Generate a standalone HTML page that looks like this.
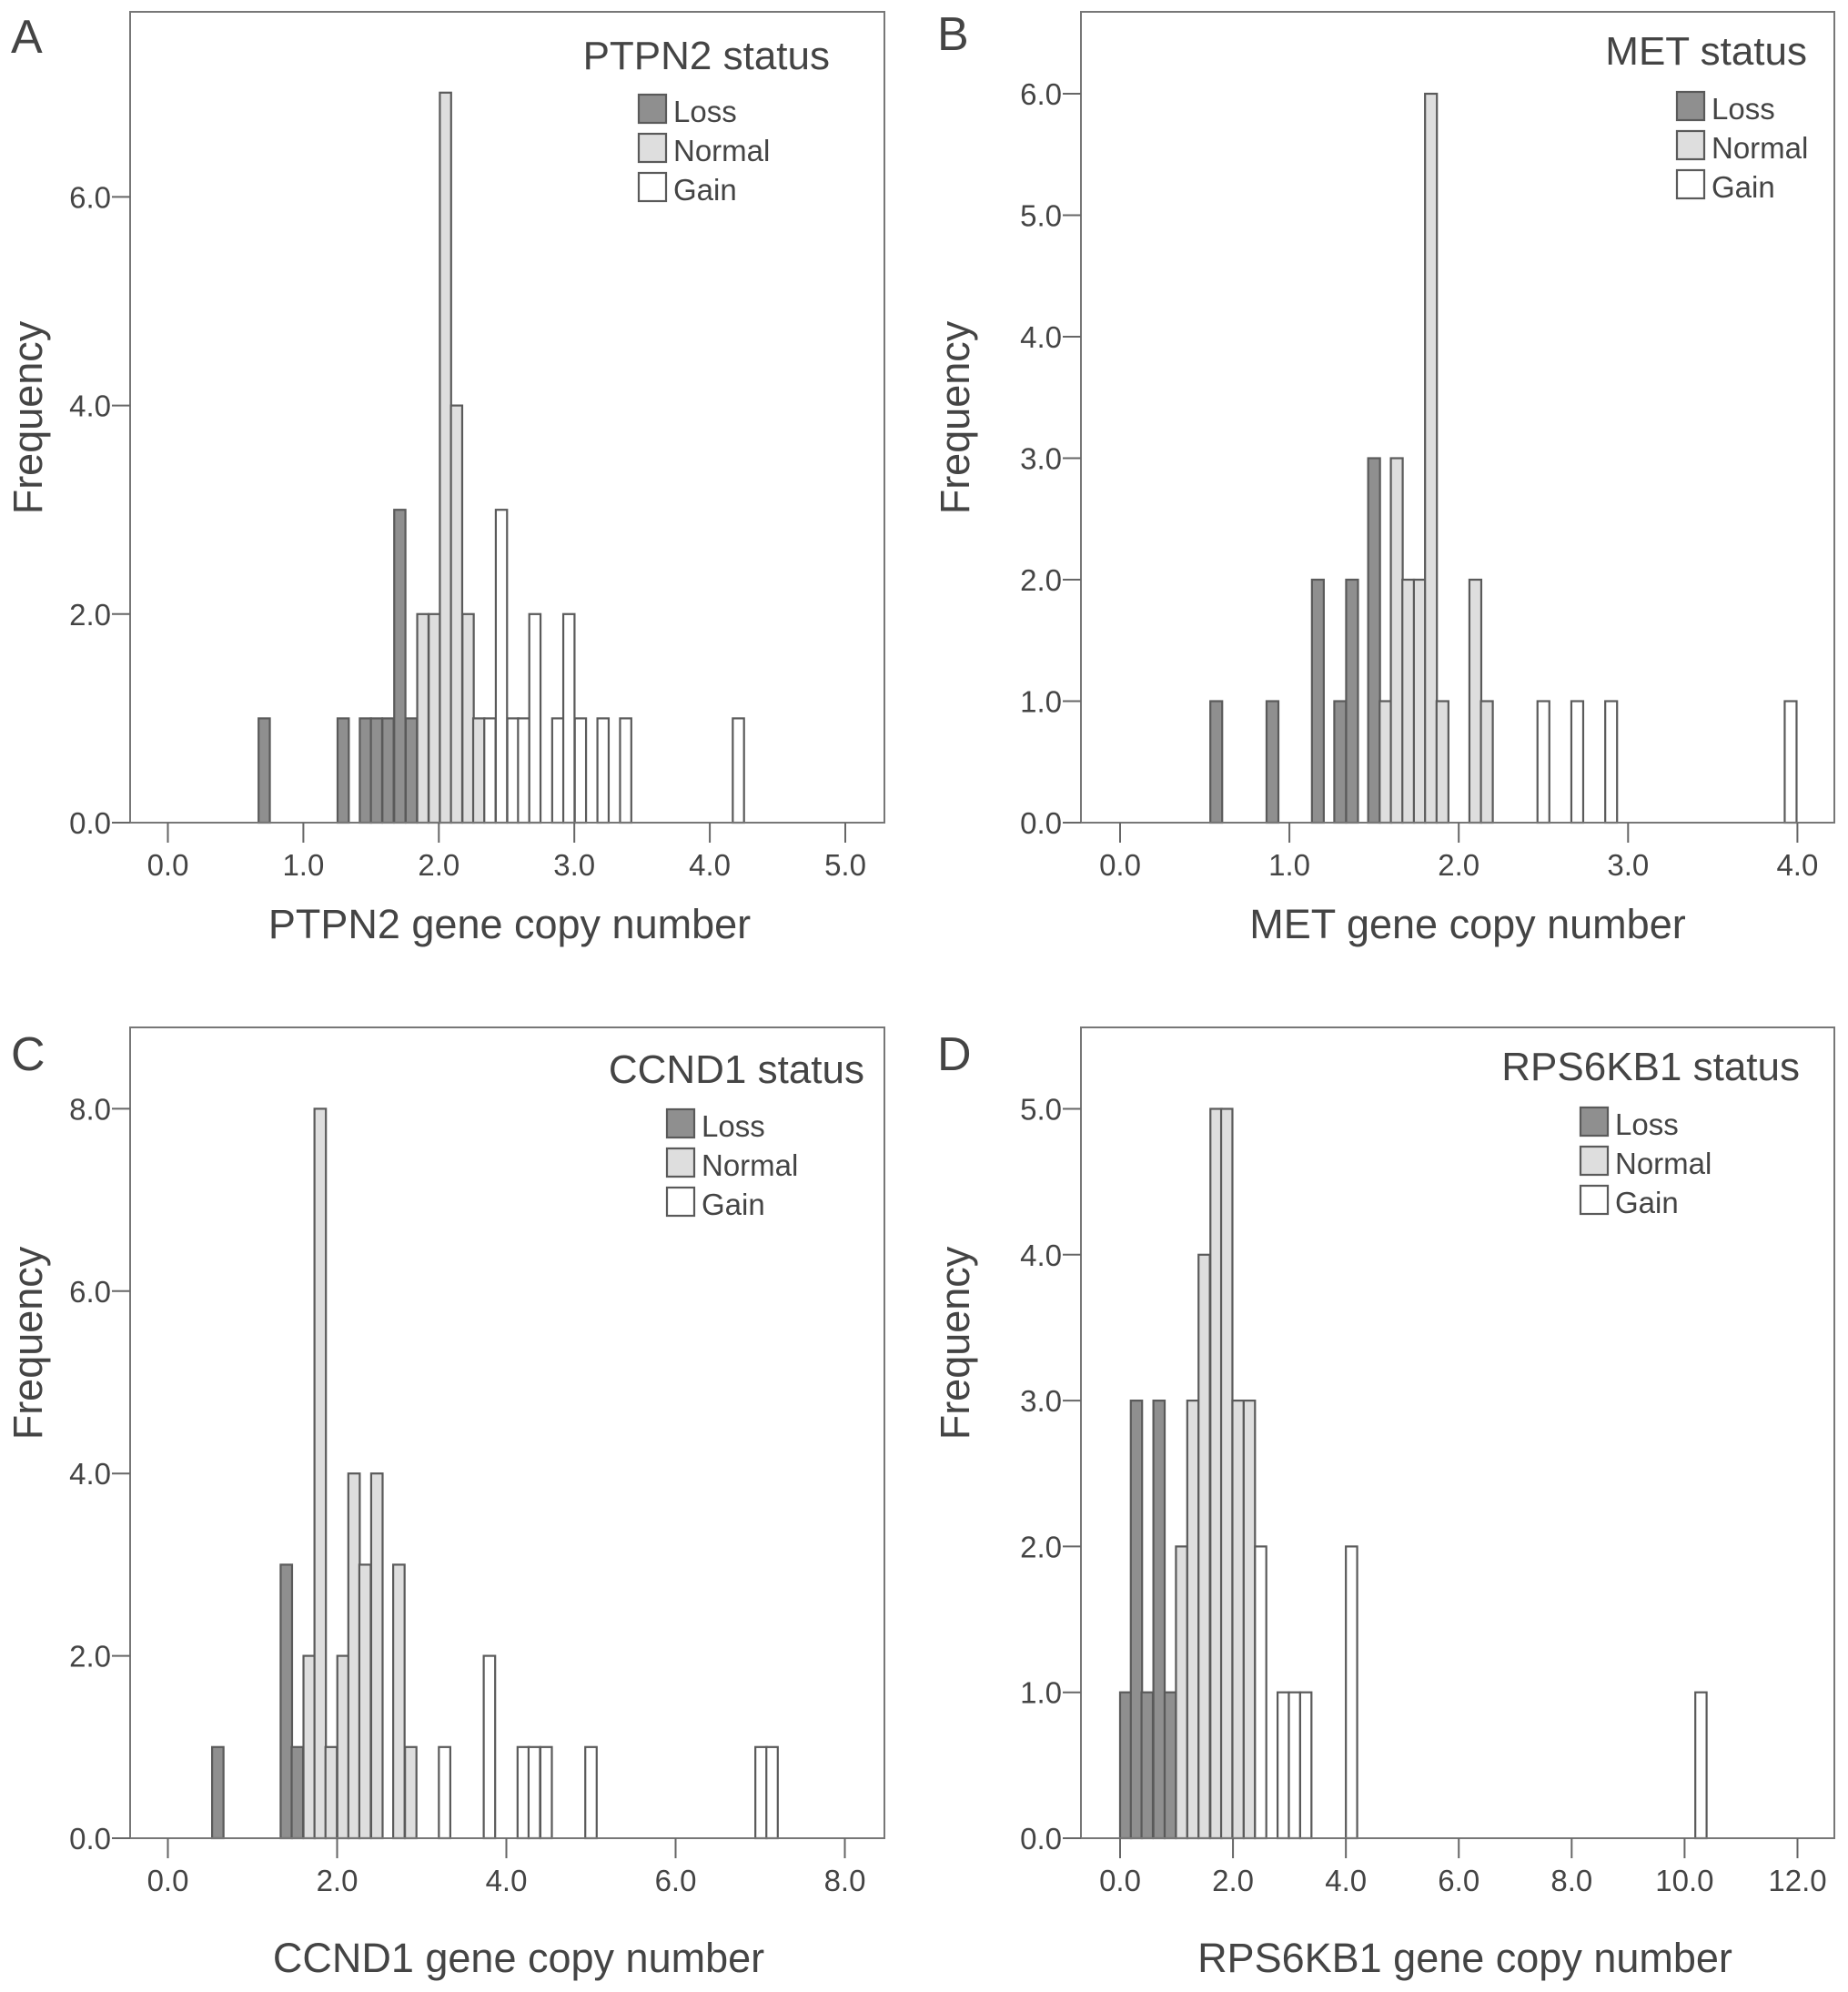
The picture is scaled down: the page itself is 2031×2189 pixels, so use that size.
<!DOCTYPE html>
<html><head><meta charset="utf-8"><style>
html,body{margin:0;padding:0;background:#fff}
svg{display:block}
text{font-family:"Liberation Sans",sans-serif;fill:#444}
</style></head><body>
<svg id="fig" width="2031" height="2189" viewBox="0 0 2031 2189" xmlns="http://www.w3.org/2000/svg"></svg>
<script>
// Panel A: PTPN2
const aLossX=[0.711,1.294,1.458,1.540,1.625,1.712,1.797];
const aLossY=[1,1,1,1,1,3,1];
const aNormX=[1.882,1.967,2.049,2.131,2.216,2.295];
const aNormY=[2,2,7,4,2,1];
const aGainX=[2.377,2.462,2.547,2.626,2.709,2.878,2.960,3.045,3.212,3.379,4.211];
const aGainY=[1,3,1,1,2,1,2,1,1,1,1];
const aXTicks=[0,1,2,3,4,5];
const aYTicks=[0,2,4,6];
// Panel B: MET
const bLossX=[0.568,0.900,1.168,1.300,1.370,1.500];
const bLossY=[1,1,2,1,2,3];
const bNormX=[1.568,1.634,1.702,1.770,1.836,1.904,2.098,2.166];
const bNormY=[1,3,2,2,6,1,2,1];
const bGainX=[2.50,2.70,2.90,3.96];
const bGainY=[1,1,1,1];
const bXTicks=[0,1,2,3,4];
const bYTicks=[0,1,2,3,4,5,6];
// Panel C: CCND1
const cLossX=[0.59,1.40,1.53];
const cLossY=[1,3,1];
const cNormX=[1.67,1.80,1.93,2.07,2.20,2.33,2.47,2.73,2.87];
const cNormY=[2,8,1,2,4,3,4,3,1];
const cGainX=[3.27,3.80,4.20,4.33,4.47,5.00,7.01,7.14];
const cGainY=[1,2,1,1,1,1,1,1];
const cXTicks=[0,2,4,6,8];
const cYTicks=[0,2,4,6,8];
// Panel D: RPS6KB1
const dLossX=[0.10,0.29,0.48,0.69,0.89];
const dLossY=[1,3,1,3,1];
const dNormX=[1.09,1.29,1.49,1.70,1.89,2.09,2.29];
const dNormY=[2,3,4,5,5,3,3];
const dGainX=[2.49,2.89,3.09,3.29,4.10,10.29];
const dGainY=[2,1,1,1,2,1];
const dXTicks=[0,2,4,6,8,10,12];
const dYTicks=[0,1,2,3,4,5];

const NS='http://www.w3.org/2000/svg';
const svg=document.getElementById('fig');
function mk(tag,attrs,parent){const e=document.createElementNS(NS,tag);for(const k in attrs)e.setAttribute(k,attrs[k]);(parent||svg).appendChild(e);return e;}

function panel(cfg){
  const g=mk('g',{});
  
  
  const L=cfg.left,R=cfg.right,T=cfg.top,B=cfg.base;
  const sx=v=>cfg.x0px+(v)*cfg.xUnit;
  const sy=v=>B-v*cfg.yUnit;
  const series=[[cfg.loss,cfg.lossY,'#8f8f8f','loss'],[cfg.norm,cfg.normY,'#dedede','normal'],[cfg.gain,cfg.gainY,'#ffffff','gain']];
  series.forEach(s=>{
    s[0].forEach((x,i)=>{
      const x1=sx(x-cfg.bw/2),x2=sx(x+cfg.bw/2);
      const r=mk('rect',{x:x1,y:sy(s[1][i]),width:x2-x1,height:sy(0)-sy(s[1][i]),fill:s[2],stroke:'#5a5a5a','stroke-width':2.2},g);
      
      
    });
  });
  const fr=mk('rect',{x:L,y:T,width:R-L,height:B-T,fill:'none',stroke:'#777','stroke-width':2},g);
  
  
  cfg.yt.forEach(v=>{
    mk('line',{x1:L-20,x2:L,y1:sy(v),y2:sy(v),stroke:'#666','stroke-width':2},g);
    const t=mk('text',{x:L-21,y:sy(v)+12,'text-anchor':'end','font-size':33},g);
    t.textContent=v.toFixed(1);
    
    
  });
  cfg.xt.forEach(v=>{
    mk('line',{x1:sx(v),x2:sx(v),y1:B,y2:B+22,stroke:'#666','stroke-width':2},g);
    const t=mk('text',{x:sx(v),y:B+58,'text-anchor':'middle','font-size':33},g);
    t.textContent=v.toFixed(1);
    
    
  });
  const xt=mk('text',{x:cfg.xTitleX,y:B+cfg.xTitleDy,'text-anchor':'middle','font-size':45},g);
  xt.textContent=cfg.xTitle;
  
  
  const yt=mk('text',{x:0,y:0,'text-anchor':'middle','font-size':45,transform:`translate(${cfg.yTitleX},${cfg.yTitleY}) rotate(-90)`},g);
  yt.textContent='Frequency';
  
  
  const lt=mk('text',{x:cfg.letterX,y:cfg.letterY,'font-size':52},g);
  lt.textContent=cfg.letter;
  
  
  const lg=mk('g',{},g);
  
  
  const ttl=mk('text',{x:cfg.legTitleX2,y:cfg.legTitleY,'text-anchor':'end','font-size':44},lg);
  ttl.textContent=cfg.legTitle;
  
  
  [['Loss','#8f8f8f'],['Normal','#dedede'],['Gain','#ffffff']].forEach((e,i)=>{
    const y=cfg.swY+i*43;
    const sw=mk('rect',{x:cfg.swX,y:y,width:30,height:31,fill:e[1],stroke:'#5a5a5a','stroke-width':2.2},lg);
    
    
    const t=mk('text',{x:cfg.swX+38,y:y+30,'font-size':33},lg);
    t.textContent=e[0];
    
    
  });
}

panel({id:'ptpn2',letter:'A',letterX:12,letterY:58,left:143,right:972,top:13,base:904,x0px:184.5,xUnit:148.9,yUnit:114.6,bw:0.083,
  loss:aLossX,lossY:aLossY,norm:aNormX,normY:aNormY,gain:aGainX,gainY:aGainY,xt:aXTicks,yt:aYTicks,
  xTitle:'PTPN2 gene copy number',xTitleX:560,xTitleDy:127,yTitleX:46,yTitleY:459,
  legTitle:'PTPN2 status',legTitleX2:912,legTitleY:76,swX:702,swY:104});
panel({id:'met',letter:'B',letterX:1030,letterY:55,left:1188,right:2016,top:13,base:904,x0px:1231,xUnit:186.1,yUnit:133.5,bw:0.07,
  loss:bLossX,lossY:bLossY,norm:bNormX,normY:bNormY,gain:bGainX,gainY:bGainY,xt:bXTicks,yt:bYTicks,
  xTitle:'MET gene copy number',xTitleX:1613,xTitleDy:127,yTitleX:1065,yTitleY:459,
  legTitle:'MET status',legTitleX2:1986,legTitleY:71,swX:1843,swY:101});
panel({id:'ccnd1',letter:'C',letterX:12,letterY:1176,left:143,right:972,top:1129,base:2020,x0px:184.5,xUnit:93,yUnit:100.2,bw:0.135,
  loss:cLossX,lossY:cLossY,norm:cNormX,normY:cNormY,gain:cGainX,gainY:cGainY,xt:cXTicks,yt:cYTicks,
  xTitle:'CCND1 gene copy number',xTitleX:570,xTitleDy:147,yTitleX:46,yTitleY:1476,
  legTitle:'CCND1 status',legTitleX2:950,legTitleY:1190,swX:733,swY:1219});
panel({id:'rps6kb1',letter:'D',letterX:1030,letterY:1176,left:1188,right:2016,top:1129,base:2020,x0px:1231,xUnit:62.04,yUnit:160.3,bw:0.2,
  loss:dLossX,lossY:dLossY,norm:dNormX,normY:dNormY,gain:dGainX,gainY:dGainY,xt:dXTicks,yt:dYTicks,
  xTitle:'RPS6KB1 gene copy number',xTitleX:1610,xTitleDy:147,yTitleX:1065,yTitleY:1476,
  legTitle:'RPS6KB1 status',legTitleX2:1978,legTitleY:1187,swX:1737,swY:1217});
</script>
</body></html>
